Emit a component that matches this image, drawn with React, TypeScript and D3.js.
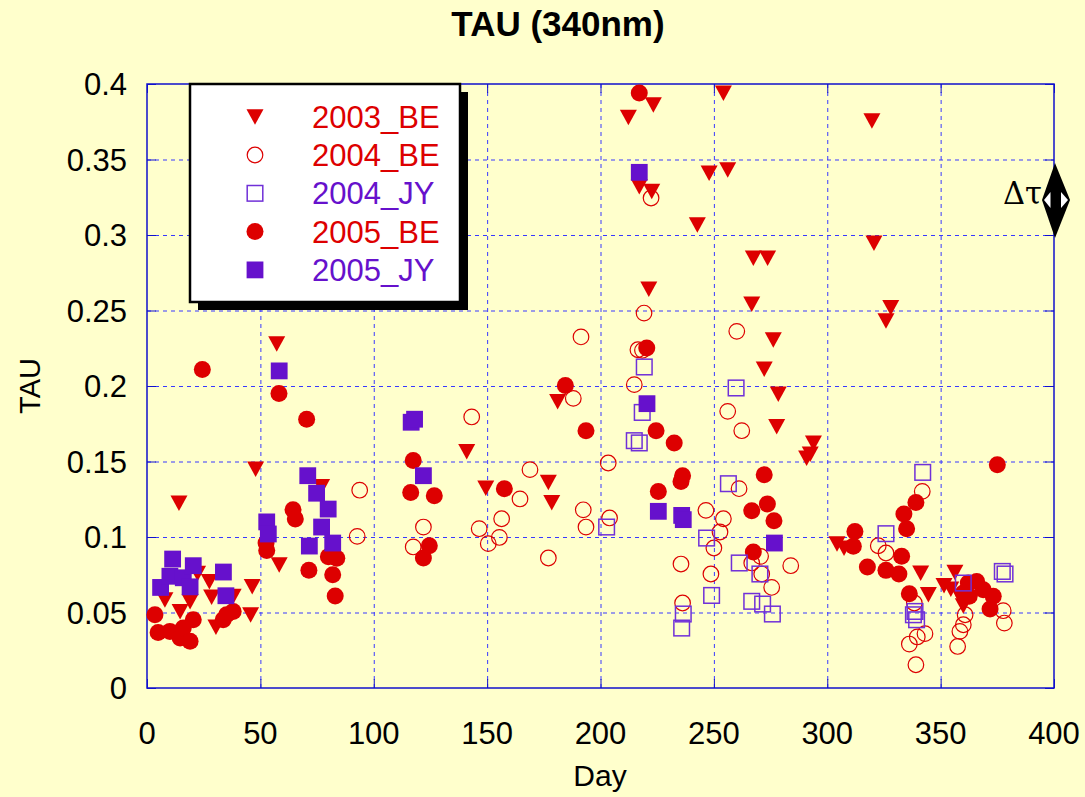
import React from "react";
import * as d3 from "d3";

// ---- Data ----
const seriesNames = ["2003_BE", "2004_BE", "2004_JY", "2005_BE", "2005_JY"];

const be2003Day = [7.9, 14.1, 14.6, 19, 22.3, 27.5, 28.5, 30.4, 38, 45.7, 46.4, 47.9, 57.2, 58.3, 77,
  141, 149.4, 177, 178.5, 181.1,
  212.3, 223.3, 254.2, 319.7, 217.1, 222.6, 247.9, 256.1, 242.7, 320.6, 267.4, 273.7, 221.3, 266.7,
  328, 325.9, 276.2, 272.2, 278.4, 277.7, 293.9, 292.5, 290.9, 304.3, 307.4, 341.2, 344.6, 356.3,
  351.5, 354.5, 358.5, 360];
const be2003Tau = [0.0585, 0.1225, 0.0507, 0.0573, 0.076, 0.0706, 0.0603, 0.0404, 0.0607, 0.0485, 0.0673, 0.145, 0.228, 0.0817, 0.1335,
  0.1567, 0.1325, 0.1362, 0.1229, 0.1898,
  0.3779, 0.3863, 0.394, 0.3757, 0.3322, 0.3289, 0.341, 0.3432, 0.3068, 0.2947, 0.2848, 0.2848, 0.2642, 0.2543,
  0.252, 0.2432, 0.2307, 0.2113, 0.1947, 0.1732, 0.1623, 0.155, 0.1523, 0.0955, 0.0927, 0.0762, 0.062, 0.0767,
  0.0678, 0.0656, 0.0607, 0.0545];

const be2004Day = [92.7, 93.8, 117.4, 121.9, 143.2, 146.5, 150.5, 155.4, 156.4, 164.5, 168.9, 177, 188, 191.4,
  192.4, 193.6, 203.4, 204, 214.9, 216.5, 218.5, 219.2, 222.3, 235.5, 236.2, 246.5, 248.7, 250, 252.7,
  254.2, 256.1, 260.1, 261.1, 262.3, 266.7, 270.6, 271.1, 275.5, 283.9, 322.5, 325.9, 338.4, 341.9, 343.1,
  339.7, 336.2, 339.1, 357.5, 358.5, 360, 360.8, 377.6, 378.1];
const be2004Tau = [0.1004, 0.131, 0.0934, 0.1066, 0.1795, 0.1055, 0.0956, 0.0997, 0.1121, 0.1252, 0.1446, 0.0861, 0.1918, 0.2325,
  0.118, 0.1066, 0.149, 0.1126, 0.2009, 0.224, 0.2236, 0.2483, 0.3245, 0.0821, 0.0563, 0.1176, 0.0755, 0.0927, 0.1033,
  0.1121, 0.1832, 0.2362, 0.132, 0.1704, 0.0828, 0.0872, 0.0755, 0.0666, 0.081, 0.0942, 0.0894, 0.0563, 0.1302, 0.036,
  0.0338, 0.0291, 0.0154, 0.0275, 0.0375, 0.0419, 0.0485, 0.0512, 0.043];

const jy2004Day = [202.7, 214.9, 217.1, 218.4, 219.3, 235.8, 236.5, 246.8, 249, 256.4, 259.8, 261.2, 266.7,
  270.3, 271.5, 275.8, 325.9, 338, 338.7, 339.4, 342.1, 360, 377.2, 378.4];
const jy2004Tau = [0.1066, 0.1638, 0.1623, 0.1825, 0.2126, 0.0397, 0.049, 0.0993, 0.0613, 0.1353, 0.1987, 0.0828, 0.0574,
  0.0755, 0.0556, 0.049, 0.1022, 0.0485, 0.0507, 0.0452, 0.1428, 0.0695, 0.0772, 0.0755];

const be2005Day = [3.5, 4.9, 10.1, 14.6, 16, 19, 20.4, 24.4, 33.6, 35.1, 38, 52.5, 52.8, 58.2, 64.4, 65.4, 70.4,
  71.4, 80, 81.9, 83, 83.7, 116.3, 117.4, 121.9, 124.5, 126.7, 157.6, 184.5, 193.6, 217.1, 220.4, 224.5,
  225.5, 232.5, 235.5, 236.2, 266.7, 267.4, 272.2, 273.6, 276.5, 311.5, 312.2, 317.7, 325.9, 331.6, 332.8,
  333.8, 335, 336.2, 339.1, 360, 362.2, 362.6, 365.9, 368.8, 371.8, 373.2, 375];
const be2005Tau = [0.0485, 0.0368, 0.0375, 0.0331, 0.0397, 0.0309, 0.0452, 0.211, 0.0452, 0.0485, 0.0507, 0.096, 0.091, 0.195, 0.118, 0.112, 0.178,
  0.078, 0.087, 0.075, 0.061, 0.086, 0.1295, 0.1507, 0.0861, 0.0942, 0.1273, 0.132, 0.2004, 0.1704, 0.394, 0.2252, 0.1704,
  0.1302, 0.1622, 0.1368, 0.1406, 0.1174, 0.0901, 0.1413, 0.1219, 0.1108, 0.0938, 0.1037, 0.0801, 0.0779, 0.0755, 0.0872,
  0.1152, 0.1055, 0.0624, 0.1229, 0.0629, 0.0695, 0.0607, 0.0706, 0.0651, 0.0523, 0.0607, 0.1479];

const jy2005Day = [6, 10.1, 11.3, 16, 19, 20.4, 33.7, 34.8, 52.8, 53.5, 58.3, 70.9, 71.6, 74.8, 77, 79.9, 81.9,
  116.5, 118, 121.9, 217.1, 220.5, 225.5, 235.8, 236.5, 276.7];
const jy2005Tau = [0.0666, 0.074, 0.0854, 0.073, 0.067, 0.081, 0.0768, 0.0611, 0.11, 0.102, 0.21, 0.1406, 0.094, 0.129, 0.1066, 0.1185, 0.096,
  0.176, 0.178, 0.1406, 0.3415, 0.1883, 0.117, 0.1143, 0.1115, 0.096];

const xTicks = [0, 50, 100, 150, 200, 250, 300, 350, 400];
const yTicks = [0, 0.05, 0.1, 0.15, 0.2, 0.25, 0.3, 0.35, 0.4];

// ---- Styles ----
const RED = "#DD0000";
const PURPLE = "#6611CC";
const OPEN_PURPLE = "#7030D8";
const BG = "#FFFFCC";
const AXIS = "#1010CC";
const GRID = "#3838FF";
const FONT = "'Liberation Sans', Arial, Helvetica, sans-serif";

type Shape = "tri" | "ocircle" | "osquare" | "circle" | "square";

const W = 1085, H = 797;
const L = 147, R = 1054, T = 84, B = 688;

function Marker({ shape, x, y }: { shape: Shape; x: number; y: number }) {
  switch (shape) {
    case "tri":
      return <path d={`M${x - 8.5},${y - 7.5}L${x + 8.5},${y - 7.5}L${x},${y + 8}Z`} fill={RED} />;
    case "ocircle":
      return <circle cx={x} cy={y} r={7.8} fill="none" stroke={RED} strokeWidth={1.2} />;
    case "osquare":
      return <rect x={x - 7.8} y={y - 7.8} width={15.6} height={15.6} fill="none" stroke={OPEN_PURPLE} strokeWidth={1.5} />;
    case "circle":
      return <circle cx={x} cy={y} r={8.5} fill={RED} />;
    case "square":
      return <rect x={x - 8.4} y={y - 8.4} width={16.8} height={16.8} fill={PURPLE} />;
  }
}

export default function App() {
  const x = d3.scaleLinear().domain([0, 400]).range([L, R]);
  const y = d3.scaleLinear().domain([0, 0.4]).range([B, T]);
  const fmt = (v: number) => String(+v.toFixed(2));

  const series: { name: string; shape: Shape; color: string; days: number[]; taus: number[] }[] = [
    { name: seriesNames[0], shape: "tri", color: RED, days: be2003Day, taus: be2003Tau },
    { name: seriesNames[1], shape: "ocircle", color: RED, days: be2004Day, taus: be2004Tau },
    { name: seriesNames[2], shape: "osquare", color: PURPLE, days: jy2004Day, taus: jy2004Tau },
    { name: seriesNames[3], shape: "circle", color: RED, days: be2005Day, taus: be2005Tau },
    { name: seriesNames[4], shape: "square", color: PURPLE, days: jy2005Day, taus: jy2005Tau },
  ];
  const drawOrder = [3, 0, 1, 2, 4];

  const legX = 190, legY = 84, legW = 270, legH = 218;
  const rowY = (i: number) => 116.7 + i * 38.3;

  return (
    <svg width={W} height={H} style={{ position: "absolute", left: 0, top: 0 }} fontFamily={FONT}>
      <rect x={0} y={0} width={W} height={H} fill={BG} />
      {/* grid */}
      {xTicks.slice(1, -1).map((t) => (
        <line key={"gx" + t} x1={x(t) + 0.5} x2={x(t) + 0.5} y1={T} y2={B} stroke={GRID} strokeWidth={1} strokeDasharray="4,4" />
      ))}
      {yTicks.slice(1, -1).map((t) => (
        <line key={"gy" + t} x1={L} x2={R} y1={y(t) + 0.5} y2={y(t) + 0.5} stroke={GRID} strokeWidth={1} strokeDasharray="4,4" />
      ))}
      {/* inward ticks */}
      {xTicks.map((t) => (
        <g key={"tx" + t}>
          <line x1={x(t) + 0.5} x2={x(t) + 0.5} y1={B} y2={B - 9} stroke={AXIS} />
          <line x1={x(t) + 0.5} x2={x(t) + 0.5} y1={T} y2={T + 9} stroke={AXIS} />
        </g>
      ))}
      {yTicks.map((t) => (
        <g key={"ty" + t}>
          <line x1={L} x2={L + 9} y1={y(t) + 0.5} y2={y(t) + 0.5} stroke={AXIS} />
          <line x1={R} x2={R - 9} y1={y(t) + 0.5} y2={y(t) + 0.5} stroke={AXIS} />
        </g>
      ))}
      <rect x={L} y={T} width={R - L} height={B - T} fill="none" stroke={AXIS} strokeWidth={1.5} />

      {/* points */}
      {drawOrder.map((si) => {
        const s = series[si];
        return (
          <g key={s.name}>
            {s.days.map((d, i) => (
              <Marker key={i} shape={s.shape} x={x(d)} y={y(s.taus[i])} />
            ))}
          </g>
        );
      })}

      {/* tick labels */}
      {xTicks.map((t) => (
        <text key={"lx" + t} x={x(t)} y={744} textAnchor="middle" fontSize={31} fill="#000">
          {t}
        </text>
      ))}
      {yTicks.map((t) => (
        <text key={"ly" + t} x={127} y={y(t) + 11} textAnchor="end" fontSize={31} fill="#000">
          {fmt(t)}
        </text>
      ))}

      {/* axis titles */}
      <text x={600} y={786} textAnchor="middle" fontSize={30} fill="#000">Day</text>
      <text transform="translate(40,386) rotate(-90)" textAnchor="middle" fontSize={29} fill="#000">TAU</text>
      <text x={558} y={36} textAnchor="middle" fontSize={35} fontWeight="bold" fill="#000">TAU (340nm)</text>

      {/* legend */}
      <rect x={legX + 8} y={legY + 8} width={legW} height={legH} fill="#000" />
      <rect x={legX} y={legY} width={legW} height={legH} fill="#fff" stroke="#000" strokeWidth={2.5} />
      {series.map((s, i) => (
        <g key={"leg" + s.name}>
          <Marker shape={s.shape} x={255} y={rowY(i)} />
          <text x={312} y={rowY(i) + 11} fontSize={31} fill={s.color}>
            {s.name}
          </text>
        </g>
      ))}

      {/* delta tau annotation */}
      <text x={1003} y={204} fontSize={32} textLength={39} lengthAdjust="spacingAndGlyphs"
        style={{ fontFamily: "'DejaVu Serif', serif" }} fill="#000">Δτ</text>
      <path d="M1055,163L1070,200L1055,238L1042,200Z" fill="#000" />
      <path d="M1044,200L1050.5,192L1050.5,208Z" fill="#fff" />
      <path d="M1068,200L1061,192L1061,208Z" fill="#fff" />
    </svg>
  );
}
